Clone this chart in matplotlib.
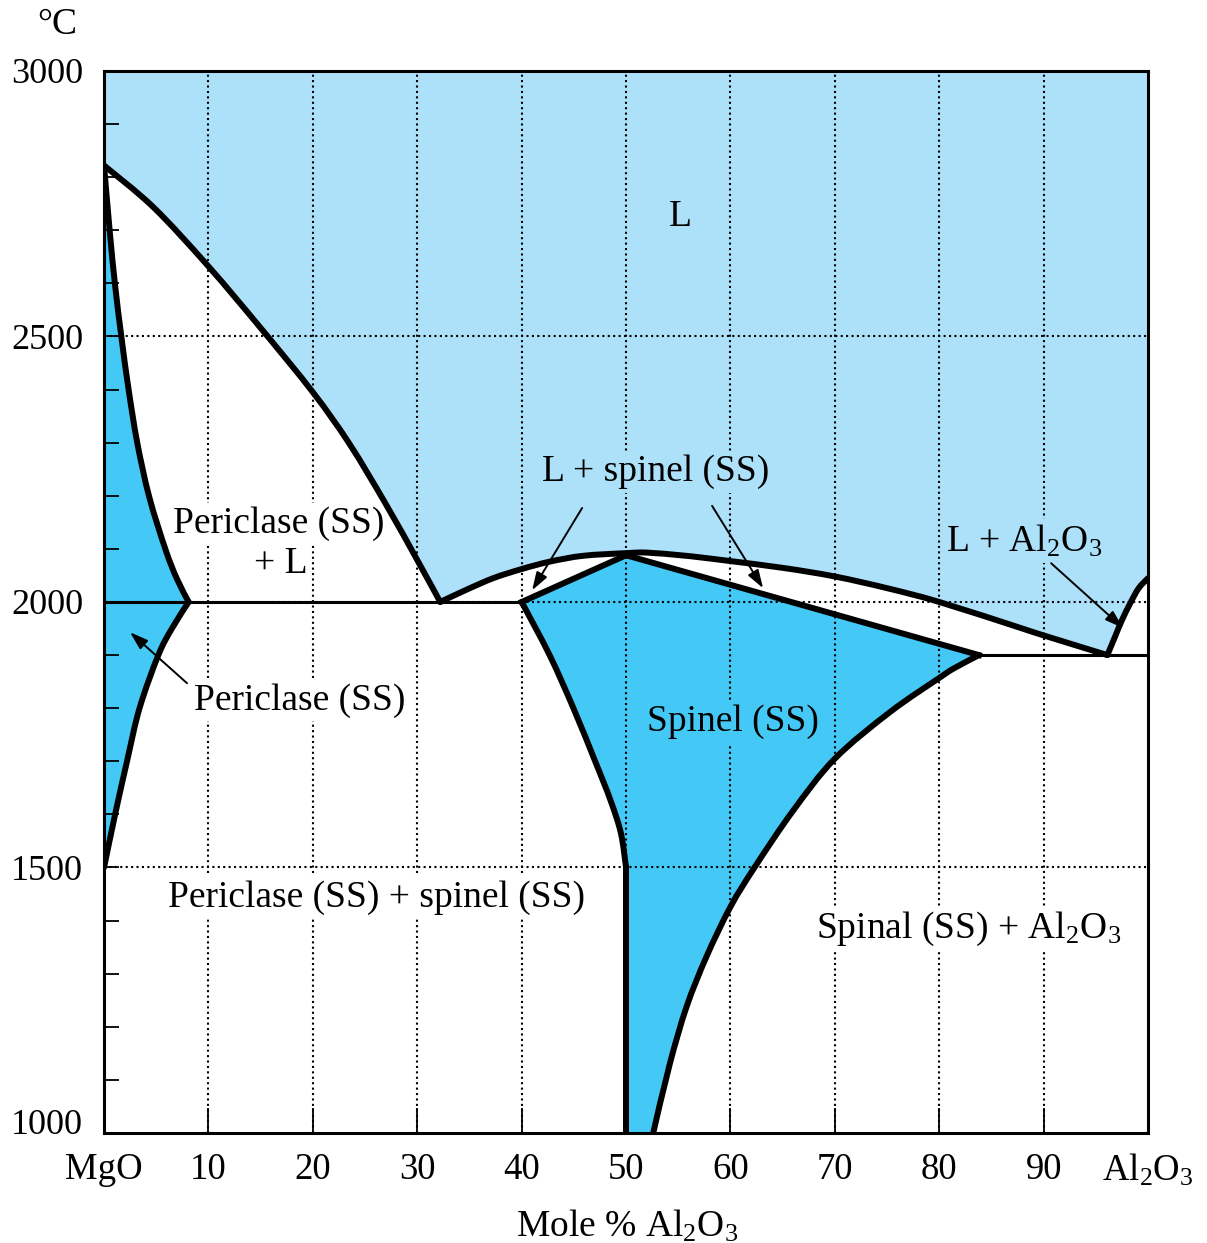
import matplotlib.pyplot as plt
import matplotlib.transforms as mtransforms
from matplotlib.path import Path
from matplotlib.patches import PathPatch

plt.rcParams['font.family'] = ['Liberation Serif', 'DejaVu Serif']
plt.rcParams['mathtext.fontset'] = 'custom'
plt.rcParams['mathtext.rm'] = 'Liberation Serif'
plt.rcParams['mathtext.default'] = 'regular'

# phase boundaries: mole % Al2O3 vs temperature (C)
mgo_liq_x = [0, 4.75, 10, 15, 20, 23.5, 27, 30, 32.2]
mgo_liq_t = [2822, 2743, 2632, 2516, 2395, 2298, 2184, 2079, 2000]

peri_sol_x = [0, 0.55, 1.06, 1.67, 2.36, 3.2, 4.34, 5.9, 6.97, 8.1]
peri_sol_t = [2822, 2697, 2596, 2498, 2399, 2298, 2197, 2098, 2044, 2000]

peri_solvus_x = [8.1, 6.5, 5.2, 3.4, 2.2, 1.06, 0]
peri_solvus_t = [2000, 1950, 1900, 1800, 1700, 1600, 1500]

sp_liq_x = [32.2, 34.7, 37.3, 40, 42.7, 45.9, 50, 52, 55.2, 57.1, 60, 65.1, 70, 75, 80, 87.8, 90, 96.1]
sp_liq_t = [2000, 2023, 2045, 2062, 2076, 2087, 2092, 2093, 2088, 2084, 2077, 2064, 2048, 2026, 2000, 1951, 1937, 1900]

sp_sol_x = [40, 50, 83.8]
sp_sol_t = [2000, 2088, 1900]

sp_left_x = [40, 42.7, 45.0, 47.1, 48.5, 49.5, 50]
sp_left_t = [2000, 1899, 1798, 1697, 1627, 1565, 1500]

sp_right_x = [83.8, 81.4, 80, 75.3, 70, 66.0, 62.3, 60, 57.7, 55.8, 54.2, 52.6]
sp_right_t = [1900, 1875, 1857, 1793, 1705, 1607, 1500, 1426, 1332, 1238, 1131, 1000]

al_liq_x = [96.1, 96.84, 97.5, 98.3, 99.1, 100]
al_liq_t = [1900, 1935, 1966, 1998, 2026, 2045]

xtick_vals = list(range(0, 101, 10))
xtick_labels = ['MgO'] + [str(v) for v in range(10, 100, 10)] + [r'Al$_2$O$_3$']
ytick_vals = [1000, 1500, 2000, 2500, 3000]

LIGHT = '#ade1fa'
MID = '#44c8f5'


def curve(xs, ts):
    # smooth (Catmull-Rom) bezier segments through the read points
    pts = list(zip(xs, ts))
    verts, codes = [], []
    for i in range(len(pts) - 1):
        p0 = pts[max(i - 1, 0)]
        p1, p2 = pts[i], pts[i + 1]
        p3 = pts[min(i + 2, len(pts) - 1)]
        c1 = (p1[0] + (p2[0] - p0[0]) / 6, p1[1] + (p2[1] - p0[1]) / 6)
        c2 = (p2[0] - (p3[0] - p1[0]) / 6, p2[1] - (p3[1] - p1[1]) / 6)
        verts += [c1, c2, p2]
        codes += [Path.CURVE4] * 3
    return verts, codes


def region(parts):
    # parts: list of ('line', xs, ts) or ('curve', xs, ts); builds one path
    verts, codes = [], []
    for kind, xs, ts in parts:
        if not verts:
            verts.append((xs[0], ts[0]))
            codes.append(Path.MOVETO)
        elif verts[-1] != (xs[0], ts[0]):
            verts.append((xs[0], ts[0]))
            codes.append(Path.LINETO)
        if kind == 'curve':
            v, c = curve(xs, ts)
        else:
            v, c = list(zip(xs[1:], ts[1:])), [Path.LINETO] * (len(xs) - 1)
        verts += v
        codes += c
    return Path(verts, codes)


fig = plt.figure(figsize=(12.07, 12.43), dpi=100)
ax = fig.add_axes([0.0862, 0.0885, 0.8650, 0.8544])
ax.set_xlim(0, 100)
ax.set_ylim(1000, 3000)

# liquid region
liquid = region([('line', [0, 0], [3000, 2822]),
                 ('curve', mgo_liq_x, mgo_liq_t),
                 ('curve', sp_liq_x, sp_liq_t),
                 ('curve', al_liq_x, al_liq_t),
                 ('line', [100, 100, 0], [2045, 3000, 3000])])
ax.add_patch(PathPatch(liquid, fc=LIGHT, lw=0, zorder=1))

# periclase solid solution
peri = region([('curve', peri_sol_x, peri_sol_t),
               ('curve', peri_solvus_x, peri_solvus_t),
               ('line', [0, 0], [1500, 2822])])
ax.add_patch(PathPatch(peri, fc=MID, lw=0, zorder=1))

# spinel solid solution
spinel = region([('line', sp_sol_x, sp_sol_t),
                 ('curve', sp_right_x, sp_right_t),
                 ('line', [52.6, 50, 50], [1000, 1000, 1500]),
                 ('curve', sp_left_x[::-1], sp_left_t[::-1])])
ax.add_patch(PathPatch(spinel, fc=MID, lw=0, zorder=1))

# dotted grid on top of the fills
for v in range(10, 100, 10):
    ax.axvline(v, color='k', lw=1.5, ls=(0, (1, 1.6)), zorder=2)
for v in [1500, 2000, 2500]:
    ax.axhline(v, color='k', lw=1.5, ls=(0, (1, 1.6)), zorder=2)

# boundaries
for xs, ts in [(mgo_liq_x, mgo_liq_t), (peri_sol_x, peri_sol_t), (peri_solvus_x, peri_solvus_t),
               (sp_liq_x, sp_liq_t), (sp_left_x, sp_left_t),
               (sp_right_x, sp_right_t), (al_liq_x, al_liq_t)]:
    ax.add_patch(PathPatch(region([('curve', xs, ts)]), fc='none', ec='k', lw=4.3,
                           capstyle='round', joinstyle='round', zorder=3))
ax.plot([50, 50], [1500, 1000], color='k', lw=4.3, zorder=3, solid_capstyle='round')
ax.plot(sp_sol_x, sp_sol_t, color='k', lw=4.3, zorder=3, solid_joinstyle='miter')
ax.plot([0, 40], [2000, 2000], color='k', lw=2.2, zorder=3)
ax.plot([83.8, 100], [1900, 1900], color='k', lw=2.2, zorder=3)

# labels
fs = 27


def label(x, y, s, fc):
    ax.text(x, y, s, fontsize=fs, ha='center', va='center', zorder=2.5,
            bbox=dict(boxstyle='square,pad=0.1', fc=fc, ec='none'))


label(55.2, 2725, 'L', LIGHT)
label(52.8, 2245, 'L + spinel (SS)', LIGHT)
label(16.7, 2147, 'Periclase (SS)', 'white')
label(16.9, 2072, '+ L', 'white')
label(88.1, 2115, r'L + Al$_2$O$_3$', LIGHT)
label(18.7, 1815, 'Periclase (SS)', 'white')
label(26.05, 1444, 'Periclase (SS) + spinel (SS)', 'white')
label(60.25, 1774, 'Spinel (SS)', MID)
label(82.8, 1384, r'Spinal (SS) + Al$_2$O$_3$', 'white')

arrow = dict(arrowstyle='-|>,head_length=0.55,head_width=0.18', color='k', lw=1.4,
             mutation_scale=20, shrinkA=0, shrinkB=0)
for start, end in [((45.79, 2177), (41.0, 2022)), ((58.24, 2181), (63.12, 2026)),
                   ((90.71, 2073), (97.6, 1951)), ((7.95, 1847), (2.49, 1943))]:
    ax.annotate('', xy=end, xytext=start, arrowprops=arrow, zorder=4)

# axes styling
ax.set_xticks(xtick_vals)
ax.set_xticklabels(xtick_labels)
ax.set_yticks(ytick_vals)
ax.set_yticks(range(1000, 3001, 100), minor=True)
ax.tick_params(axis='x', direction='in', length=18, width=1.3, labelsize=26.5, pad=14)
ax.tick_params(axis='y', which='both', direction='in', length=11, width=1.3, labelsize=26, pad=15)
for sp in ax.spines.values():
    sp.set_linewidth(2.2)
    sp.set_zorder(6)

lab = ax.get_yticklabels()[0]
lab.set_transform(lab.get_transform() + mtransforms.ScaledTranslation(0, 8 / 72, fig.dpi_scale_trans))

fig.text(57 / 1207, 1 - 25 / 1243, '°C', fontsize=fs, ha='center', va='center')
fig.text(627 / 1207, 1 - 1226 / 1243, r'Mole % Al$_2$O$_3$', fontsize=fs, ha='center', va='center')

fig.savefig('out.png', dpi=100)
